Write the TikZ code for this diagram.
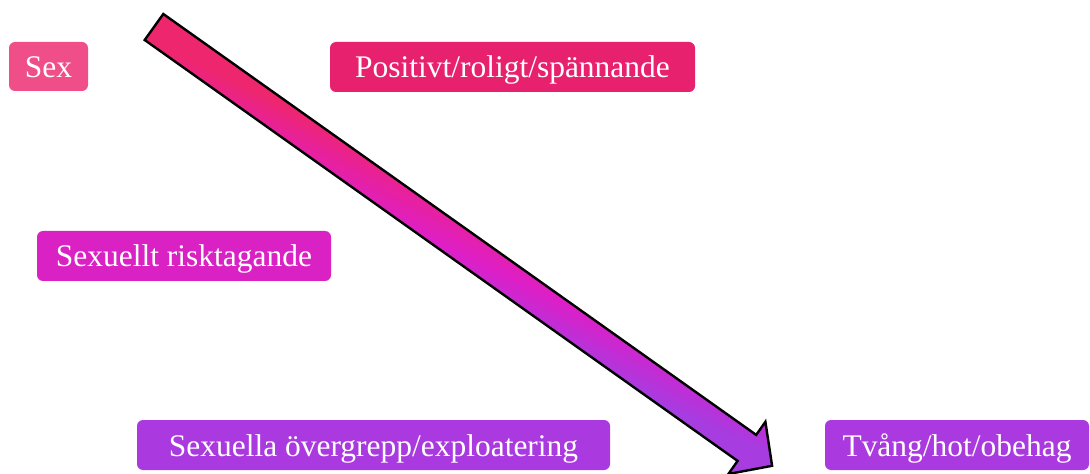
\documentclass[tikz,border=0pt]{standalone}
\usepackage{fontspec}
\setmainfont{Liberation Serif}
\definecolor{cSex}{RGB}{240,78,136}
\definecolor{cPos}{RGB}{232,33,110}
\definecolor{cRisk}{RGB}{218,33,196}
\definecolor{cOver}{RGB}{170,58,224}
\pgfdeclareverticalshading{arrowshade}{100bp}{%
  rgb(0bp)=(0.655,0.235,0.878);
  rgb(44.3bp)=(0.655,0.235,0.878);
  rgb(46.8bp)=(0.760,0.175,0.835);
  rgb(49.2bp)=(0.870,0.120,0.780);
  rgb(52.6bp)=(0.910,0.130,0.600);
  rgb(55.2bp)=(0.933,0.150,0.430);
  rgb(100bp)=(0.933,0.150,0.430)}
\tikzset{
  lbl/.style={rounded corners=4.5pt, inner sep=0pt, text=white,
    font=\fontsize{23.6}{28}\selectfont, text height=21.5pt, text depth=5pt,
    minimum height=37.5pt},
  bigarrow/.style={draw=black, line width=1.8pt, line join=miter,
    shading=arrowshade, shading angle=-25}
}
\begin{document}
\begin{tikzpicture}[x=0.75pt, y=-0.75pt]
\useasboundingbox (0,0) rectangle (1090,474);
% labels
\node[lbl, fill=cSex, minimum width=59.25pt, minimum height=36.75pt] (sex) at (48.5,66.5) {Sex};
\node[lbl, fill=cPos, minimum width=273.75pt] (pos) at (512.5,67) {Positivt/roligt/spännande};
\node[lbl, fill=cRisk, minimum width=220.5pt] (risk) at (184,256) {Sexuellt risktagande};
\node[lbl, fill=cOver, minimum width=354.75pt] (over) at (373.5,445) {Sexuella övergrepp/exploatering};
\node[lbl, fill=cOver, minimum width=198pt] (tvang) at (957,445) {Tvång/hot/obehag};
% big block arrow
\coordinate (tu) at (163.3,14.0);
\coordinate (tl) at (144.7,40.0);
\coordinate (iu) at (756.2,434.9);
\coordinate (wu) at (765.4,421.8);
\coordinate (tip) at (772.1,465.8);
\coordinate (wl) at (728.4,474.0);
\coordinate (il) at (737.6,460.9);
\path[bigarrow] (tu) -- (iu) -- (wu) -- (tip) -- (wl) -- (il) -- (tl) -- cycle;
\end{tikzpicture}
\end{document}
